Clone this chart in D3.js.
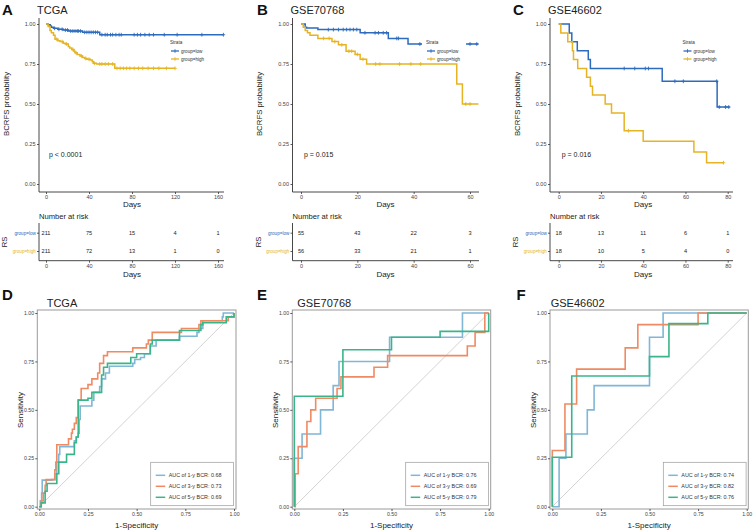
<!DOCTYPE html>
<html><head><meta charset="utf-8">
<script src="https://cdn.jsdelivr.net/npm/d3@7"></script>
<style>body{margin:0;background:#fff}svg{font-family:"Liberation Sans",Arial,sans-serif}</style>
</head><body><svg id="c" width="753" height="530"></svg>
<script>
// ---------------- DATA ----------------
const kmTitles = ["TCGA", "GSE70768", "GSE46602"];
const kmPvals = ["p < 0.0001", "p = 0.015", "p = 0.016"];
const kmTicks = [[0,40,80,120,160],[0,20,40,60],[0,20,40,60,80]];
const kmEnds = [[165,120],[63,63],[81,78]];
// step vertices [time, survival]
const tcgaLow  = [[0,1],[2,0.995],[4,0.988],[5,0.98],[7,0.973],[11,0.967],[16,0.962],[21,0.956],[34,0.948],[50,0.933]];
const tcgaHigh = [[0,1],[2,0.985],[3.7,0.96],[5,0.945],[7,0.93],[8.4,0.905],[11,0.895],[13,0.89],[16,0.88],[18,0.875],[20.7,0.86],[22,0.85],[24,0.84],[26,0.83],[27,0.82],[29,0.81],[31.6,0.8],[34,0.79],[36,0.785],[38,0.78],[41,0.775],[43,0.765],[44,0.755],[47,0.75],[64,0.723]];
const tcgaLowCens  = [8,12,15,18,20,23,25,27,29,30,32,36,38,40,42,44,46,48,52,55,57,60,62,65,68,70,82,85,88,92,96,100,110,122,145,165];
const tcgaHighCens = [10,15,19,25,28,33,37,40,45,50,52,55,58,62,66,69,72,75,78,82,86,90,95,100,105,112,120];
const g70Low  = [[0,1],[1.5,0.98],[2,0.975],[6,0.965],[21,0.945],[31,0.91],[38,0.875]];
const g70High = [[0,1],[0.8,0.98],[1.5,0.96],[2.3,0.945],[3.2,0.93],[6,0.91],[11,0.89],[13.3,0.87],[16,0.83],[19.2,0.81],[21,0.78],[23.3,0.75],[55.3,0.625],[57.3,0.5]];
const g70LowCens  = [9.7,11.5,13.3,15,16.2,17.4,18.6,19.8,22.7,26.3,27.5,29.2,30.4,34,34.6,42.2,57.6,60,62.4];
const g70HighCens = [8,10,12,14.5,17,18,20,22,26.5,28,35,39,42.5,58.5,60];
const g46Low  = [[0,1],[5,0.944],[6.2,0.889],[8.8,0.833],[14,0.778],[15,0.722],[49,0.642],[75,0.481]];
const g46High = [[0,1],[1,0.944],[4.3,0.889],[6.5,0.833],[7,0.778],[9,0.722],[13.2,0.667],[15,0.611],[16,0.556],[22,0.5],[25,0.444],[31,0.333],[40,0.267],[64,0.2],[70,0.133]];
const g46LowCens  = [31,36,41,42.5,55,59,74.8,76,79,80.5];
const g46HighCens = [33,78];
const strata = ["group=low", "group=high"];
// numbers at risk
const riskLow  = [[211,75,15,4,1],[55,43,22,3],[18,13,11,6,1]];
const riskHigh = [[211,72,13,1,0],[56,33,21,1],[18,10,5,4,0]];
// ROC curves [1-specificity, sensitivity]
const rocTitles = ["TCGA", "GSE70768", "GSE46602"];
const rocLabels = ["AUC of 1-y BCR", "AUC of 3-y BCR", "AUC of 5-y BCR"];
const rocAUC = [[0.68,0.73,0.69],[0.76,0.69,0.79],[0.74,0.82,0.76]];
const tcga1y = [[0,0],[0.005,0.03],[0.012,0.07],[0.015,0.137],[0.063,0.14],[0.08,0.17],[0.09,0.23],[0.1,0.27],[0.105,0.31],[0.18,0.34],[0.19,0.36],[0.2,0.38],[0.205,0.45],[0.21,0.52],[0.27,0.55],[0.28,0.59],[0.31,0.62],[0.32,0.66],[0.34,0.69],[0.36,0.725],[0.48,0.74],[0.49,0.76],[0.52,0.77],[0.54,0.79],[0.57,0.83],[0.6,0.86],[0.72,0.88],[0.81,0.9],[0.82,0.92],[0.84,0.96],[0.94,0.98],[0.945,1],[1,1]];
const tcga3y = [[0,0],[0.01,0.03],[0.02,0.07],[0.03,0.11],[0.035,0.14],[0.08,0.19],[0.085,0.23],[0.09,0.32],[0.15,0.35],[0.165,0.38],[0.17,0.4],[0.18,0.43],[0.19,0.46],[0.2,0.55],[0.215,0.61],[0.25,0.63],[0.27,0.66],[0.3,0.69],[0.31,0.74],[0.33,0.78],[0.35,0.8],[0.48,0.82],[0.55,0.84],[0.56,0.86],[0.58,0.9],[0.73,0.92],[0.82,0.94],[0.83,0.96],[0.97,0.98],[1,1]];
const tcga5y = [[0,0],[0.01,0.02],[0.03,0.08],[0.04,0.12],[0.09,0.17],[0.1,0.23],[0.14,0.27],[0.18,0.33],[0.19,0.36],[0.2,0.55],[0.25,0.56],[0.27,0.59],[0.32,0.68],[0.33,0.72],[0.35,0.74],[0.47,0.77],[0.5,0.79],[0.57,0.84],[0.58,0.86],[0.72,0.91],[0.83,0.94],[0.84,0.95],[0.96,0.98],[1,1]];
const g70_1y = [[0,0],[0,0.25],[0.04,0.375],[0.135,0.5],[0.2,0.625],[0.23,0.75],[0.49,0.875],[0.865,1],[1,1]];
const g70_3y = [[0,0],[0.005,0.17],[0.02,0.31],[0.065,0.44],[0.085,0.5],[0.11,0.56],[0.22,0.61],[0.24,0.67],[0.41,0.72],[0.48,0.78],[0.89,0.83],[0.93,0.9],[0.98,1],[1,1]];
const g70_5y = [[0,0],[0,0.57],[0.25,0.81],[0.5,0.875],[0.75,0.905],[1,1]];
const g46_1y = [[0,0],[0.035,0.25],[0.07,0.375],[0.18,0.5],[0.215,0.625],[0.5,0.875],[0.57,1],[1,1]];
const g46_3y = [[0,0],[0,0.29],[0.065,0.53],[0.125,0.71],[0.375,0.82],[0.44,0.94],[0.75,1],[1,1]];
const g46_5y = [[0,0],[0,0.255],[0.1,0.675],[0.5,0.775],[0.6,0.945],[0.8,1],[1,1]];
const yTicks = [0,0.25,0.5,0.75,1];

// ---------------- DRAWING ----------------
const svg = d3.select("#c");
const FONT = '"Liberation Sans",Arial,sans-serif';
const kmCol = ["#2D6BBD", "#E6B422"];
const rocCol = ["#80B6D6", "#F08A63", "#3AB58A"];
const axCol = "#333";
const f2 = d3.format(".2f");

const kmData = [[tcgaLow,tcgaHigh],[g70Low,g70High],[g46Low,g46High]];
const kmCens = [[tcgaLowCens,tcgaHighCens],[g70LowCens,g70HighCens],[g46LowCens,g46HighCens]];
const kmLayout = [
  {ax:39, r0:46, r1:218, right:224, letter:"A", lx:2, leg:170},
  {ax:292.5, r0:301, r1:470, right:479, letter:"B", lx:257, leg:426},
  {ax:550, r0:558.7, r1:727.7, right:733, letter:"C", lx:513, leg:682.5}
];

function text(g, x, y, s, size, opts={}) {
  const t = g.append("text").attr("x",x).attr("y",y).text(s)
    .attr("font-size",size).attr("fill",opts.fill||"#222")
    .attr("text-anchor",opts.anchor||"start")
    .attr("font-family",FONT);
  if (opts.weight) t.attr("font-weight",opts.weight);
  if (opts.rot) t.attr("transform",`rotate(-90,${x},${y})`);
  if (opts.dy) t.attr("dy",opts.dy);
  return t;
}

function styleAxis(g, fs) {
  g.select(".domain").remove();
  g.selectAll(".tick line").attr("stroke",axCol).attr("stroke-width",0.8);
  g.selectAll(".tick text").attr("font-size",fs).attr("fill","#444").attr("font-family",FONT);
}

kmLayout.forEach((L, i) => {
  const g = svg.append("g");
  const maxT = kmTicks[i][kmTicks[i].length-1];
  const x = d3.scaleLinear([0,maxT],[L.r0,L.r1]);
  const y = d3.scaleLinear([0,1],[184,24]);
  text(g, L.lx, 15, L.letter, 15, {weight:"bold", fill:"#111"});
  text(g, L.ax-2, 14, kmTitles[i], 11, {fill:"#222"});
  const line = d3.line().x(d=>x(d[0])).y(d=>y(d[1])).curve(d3.curveStepAfter);
  [0,1].forEach(k => {
    const pts = kmData[i][k].concat([[kmEnds[i][k], kmData[i][k][kmData[i][k].length-1][1]]]);
    g.append("path").attr("d",line(pts)).attr("fill","none")
      .attr("stroke",kmCol[k]).attr("stroke-width",1.5);
    const survAt = t => { let s=1; kmData[i][k].forEach(p=>{ if(p[0]<=t) s=p[1]; }); return s; };
    kmCens[i][k].forEach(t => {
      const cx = x(t), cy = y(survAt(t));
      g.append("path").attr("d",`M${cx-1.8},${cy}H${cx+1.8}M${cx},${cy-1.9}V${cy+1.9}`)
        .attr("stroke",kmCol[k]).attr("stroke-width",0.9);
    });
  });
  g.append("rect").attr("x",L.leg-4).attr("y",37).attr("width",44).attr("height",26).attr("fill","#fff");
  text(g, L.leg, 43.5, "Strata", 4.6, {fill:"#333"});
  strata.forEach((s,k) => {
    const yy = 51 + k*8;
    g.append("line").attr("x1",L.leg+1).attr("x2",L.leg+9).attr("y1",yy).attr("y2",yy)
      .attr("stroke",kmCol[k]).attr("stroke-width",1.3);
    g.append("path").attr("d",`M${L.leg+5},${yy-1.8}V${yy+1.8}`).attr("stroke",kmCol[k]).attr("stroke-width",0.9);
    text(g, L.leg+11, yy+1.6, s, 4.6, {fill:"#333"});
  });
  const ya = g.append("g").attr("transform",`translate(${L.ax},0)`)
    .call(d3.axisLeft(y).tickValues(yTicks).tickFormat(f2).tickSize(2).tickPadding(1.5));
  styleAxis(ya, 5.5);
  const xa = g.append("g").attr("transform",`translate(0,192)`)
    .call(d3.axisBottom(x).tickValues(kmTicks[i]).tickFormat(d3.format("d")).tickSize(2).tickPadding(1.5));
  styleAxis(xa, 5.5);
  g.append("path").attr("d",`M${L.ax},18V192H${L.right}`).attr("fill","none").attr("stroke",axCol).attr("stroke-width",0.9);
  text(g, (L.r0+L.r1)/2, 207, "Days", 8, {anchor:"middle"});
  text(g, 8.5 + (L.ax-39), 104, "BCRFS probability", 7.8, {anchor:"middle", rot:true});
  text(g, x(0)+3, 157, kmPvals[i], 7, {fill:"#222"});

  const rg = svg.append("g");
  text(rg, L.ax, 219, "Number at risk", 7.6);
  const ry = d3.scalePoint(strata, [232.7, 251]);
  strata.forEach((s,k) => {
    const vals = k===0 ? riskLow[i] : riskHigh[i];
    vals.forEach((v,j) => text(rg, x(kmTicks[i][j]), ry(s), v, 5.6, {anchor:"middle", dy:"0.35em"}));
  });
  const rya = rg.append("g").attr("transform",`translate(${L.ax},0)`)
    .call(d3.axisLeft(ry).tickSize(2).tickPadding(1.2));
  styleAxis(rya, 4.6);
  rya.selectAll(".tick text").attr("fill",(d,k)=>kmCol[k]);
  const rxa = rg.append("g").attr("transform",`translate(0,260.7)`)
    .call(d3.axisBottom(x).tickValues(kmTicks[i]).tickFormat(d3.format("d")).tickSize(2).tickPadding(1.5));
  styleAxis(rxa, 5.5);
  rg.append("path").attr("d",`M${L.ax},223V260.7H${L.right}`).attr("fill","none").attr("stroke",axCol).attr("stroke-width",0.9);
  text(rg, (L.r0+L.r1)/2, 277, "Days", 8, {anchor:"middle"});
  text(rg, L.ax-32, 242, "RS", 7.6, {anchor:"middle", rot:true});
});

const rocData = [[tcga1y,tcga3y,tcga5y],[g70_1y,g70_3y,g70_5y],[g46_1y,g46_3y,g46_5y]];
const rocLayout = [
  {b0:37.3, b1:236, r0:39.3, r1:234, letter:"D", lx:2, tx:46.7, leg:150.7},
  {b0:292.3, b1:490.7, r0:294.3, r1:488.7, letter:"E", lx:257, tx:297.3, leg:405.7},
  {b0:550, b1:748.3, r0:552.3, r1:746.7, letter:"F", lx:516.5, tx:550.7, leg:663.3}
];
rocLayout.forEach((L,i) => {
  const g = svg.append("g");
  const x = d3.scaleLinear([0,1],[L.r0,L.r1]);
  const y = d3.scaleLinear([0,1],[506.7,313]);
  text(g, L.lx, 300, L.letter, 15, {weight:"bold", fill:"#111"});
  text(g, L.tx, 306.7, rocTitles[i], 11);
  g.append("line").attr("x1",x(0)).attr("y1",y(0)).attr("x2",x(1)).attr("y2",y(1))
    .attr("stroke","#c8c8c8").attr("stroke-width",0.8);
  const line = d3.line().x(d=>x(d[0])).y(d=>y(d[1])).curve(d3.curveStepAfter);
  rocData[i].forEach((pts,k) => {
    g.append("path").attr("d",line(pts)).attr("fill","none")
      .attr("stroke",rocCol[k]).attr("stroke-width",1.6);
  });
  g.append("rect").attr("x",L.b0).attr("y",310).attr("width",L.b1-L.b0).attr("height",199)
    .attr("fill","none").attr("stroke","#9a9a9a").attr("stroke-width",1);
  const ya = g.append("g").attr("transform",`translate(${L.b0},0)`)
    .call(d3.axisLeft(y).tickValues(yTicks).tickFormat(f2).tickSize(2).tickPadding(1.2));
  styleAxis(ya, 5.2);
  const xa = g.append("g").attr("transform",`translate(0,509)`)
    .call(d3.axisBottom(x).tickValues(yTicks).tickFormat(f2).tickSize(2).tickPadding(1.2));
  styleAxis(xa, 5.2);
  text(g, (L.b0+L.b1)/2, 527.5, "1-Specificity", 8, {anchor:"middle"});
  text(g, L.b0-14.5, 410, "Sensitivity", 8, {anchor:"middle", rot:true});
  g.append("rect").attr("x",L.leg).attr("y",462.3).attr("width",82.8).attr("height",43.4)
    .attr("fill","#fff").attr("stroke","#9a9a9a").attr("stroke-width",0.7);
  rocLabels.forEach((lab,k) => {
    const yy = 475.3 + k*11;
    g.append("line").attr("x1",L.leg+5).attr("x2",L.leg+14.5).attr("y1",yy).attr("y2",yy)
      .attr("stroke",rocCol[k]).attr("stroke-width",1.5);
    text(g, L.leg+18, yy, `${lab}: ${rocAUC[i][k].toFixed(2)}`, 5.4, {fill:"#333", dy:"0.35em"});
  });
});
</script></body></html>
